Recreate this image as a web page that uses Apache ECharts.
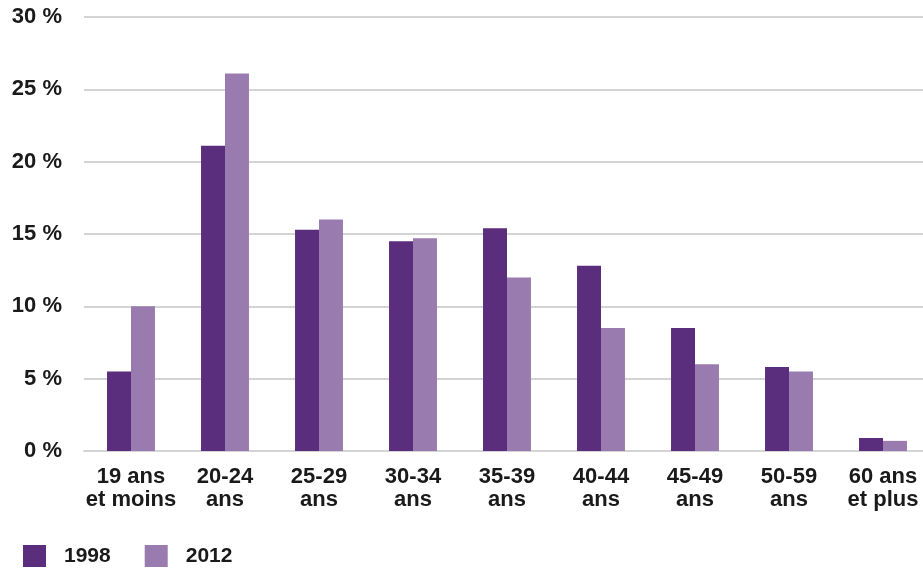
<!DOCTYPE html>
<html>
<head>
<meta charset="utf-8">
<script src="https://cdn.jsdelivr.net/npm/echarts@6/dist/echarts.min.js"></script>
<style>
  html, body { margin: 0; padding: 0; background: #ffffff; overflow: hidden; }
  /* canvas is a little wider than the page so the last group runs to the edge */
  #chart { width: 930px; height: 570px; }
</style>
</head>
<body>
<div id="chart"></div>
<script>
// Age groups (two-line labels)
const categories = [
  '19 ans\net moins', '20-24\nans', '25-29\nans', '30-34\nans', '35-39\nans',
  '40-44\nans', '45-49\nans', '50-59\nans', '60 ans\net plus'
];
// Share of each age group, in percent
const values1998 = [5.5, 21.1, 15.3, 14.5, 15.4, 12.8, 8.5, 5.8, 0.9];
const values2012 = [10.0, 26.1, 16.0, 14.7, 12.0, 8.5, 6.0, 5.5, 0.7];
const seriesNames = ['1998', '2012'];
const yTicks = [0, 5, 10, 15, 20, 25, 30];

const FONT = '"Liberation Sans", Arial, sans-serif';
const DARK = '#5b2d7d';
const LIGHT = '#9a7bb0';
const TEXT = '#1a1a1a';

const chart = echarts.init(document.getElementById('chart'), null, { renderer: 'canvas' });
chart.setOption({
  animation: false,
  backgroundColor: '#ffffff',
  grid: { left: 84, right: 0, top: 17, bottom: 119, containLabel: false },
  legend: {
    left: 23,
    top: 545,
    padding: 0,
    itemWidth: 23,
    itemHeight: 22,
    itemGap: 34,
    icon: 'rect',
    data: seriesNames,
    textStyle: {
      fontFamily: FONT, fontWeight: 'bold', fontSize: 21, color: TEXT,
      padding: [0, 0, 0, 13]
    }
  },
  xAxis: {
    type: 'category',
    data: categories,
    axisTick: { show: false },
    axisLine: { show: true, lineStyle: { color: '#d4d4d4', width: 2 } },
    axisLabel: {
      margin: 14,
      interval: 0,
      fontFamily: FONT, fontWeight: 'bold', fontSize: 22, color: TEXT,
      lineHeight: 23
    }
  },
  yAxis: {
    type: 'value',
    min: yTicks[0],
    max: yTicks[yTicks.length - 1],
    interval: 5,
    axisLine: { show: false },
    axisTick: { show: false },
    splitLine: { lineStyle: { color: '#d4d4d4', width: 2 } },
    axisLabel: {
      margin: 22,
      fontFamily: FONT, fontWeight: 'bold', fontSize: 22, color: TEXT,
      formatter: v => v + ' %'
    }
  },
  series: [
    {
      name: seriesNames[0], type: 'bar', data: values1998,
      itemStyle: { color: DARK }, barGap: '0%', barCategoryGap: '49%'
    },
    {
      name: seriesNames[1], type: 'bar', data: values2012,
      itemStyle: { color: LIGHT }, barGap: '0%', barCategoryGap: '49%'
    }
  ]
});
</script>
</body>
</html>
